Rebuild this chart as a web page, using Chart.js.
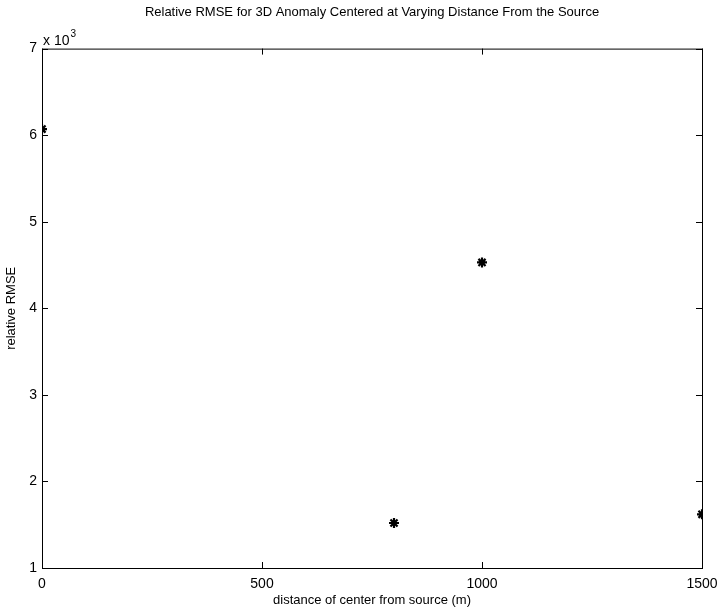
<!DOCTYPE html>
<html>
<head>
<meta charset="utf-8">
<script src="https://cdn.jsdelivr.net/npm/chart.js@4.4.1/dist/chart.umd.min.js"></script>
<style>
  html, body { margin: 0; padding: 0; background: #fff; }
  #wrap { width: 718px; height: 611px; }
</style>
</head>
<body>
<div id="wrap"><canvas id="Chart" width="718" height="611"></canvas></div>
<script>
const distances = [0, 800, 1000, 1500];
const rmseValues = [6070, 1520, 4530, 1620];
const xTicks = [0, 500, 1000, 1500];
const yTicks = [1000, 2000, 3000, 4000, 5000, 6000, 7000];

const FONT = 'Liberation Sans, Arial, Helvetica, sans-serif';

// box around the plot plus inward tick marks on all four sides, and the exponent label
const matlabAxes = {
    id: 'matlabAxes',
    afterDraw(chart) {
        const { ctx, chartArea: a, scales } = chart;
        const len = 6;
        ctx.save();
        ctx.strokeStyle = '#000';
        ctx.lineWidth = 1;
        ctx.strokeRect(a.left + 0.5, a.top + 0.5, a.right - a.left, a.bottom - a.top);
        ctx.beginPath();
        xTicks.forEach(v => {
            const px = Math.round(scales.x.getPixelForValue(v)) + 0.5;
            ctx.moveTo(px, a.bottom); ctx.lineTo(px, a.bottom - len);
            ctx.moveTo(px, a.top); ctx.lineTo(px, a.top + len);
        });
        yTicks.forEach(v => {
            const py = Math.round(scales.y.getPixelForValue(v)) + 0.5;
            ctx.moveTo(a.left, py); ctx.lineTo(a.left + len, py);
            ctx.moveTo(a.right, py); ctx.lineTo(a.right - len, py);
        });
        ctx.stroke();

        ctx.fillStyle = '#000';
        ctx.textBaseline = 'alphabetic';
        ctx.textAlign = 'left';
        ctx.font = '14px ' + FONT;
        ctx.fillText('x 10', a.left + 1, a.top - 4);
        const w = ctx.measureText('x 10').width;
        ctx.font = '10px ' + FONT;
        ctx.fillText('3', a.left + 2 + w, a.top - 12);
        ctx.restore();
    }
};

const config = {
    type: 'scatter',
    data: {
        datasets: [{
            label: 'relative RMSE',
            data: distances.map((d, i) => ({ x: d, y: rmseValues[i] })),
            pointStyle: 'star',
            pointRadius: 5,
            borderWidth: 2.2,
            borderColor: '#000',
            backgroundColor: '#000',
            showLine: false,
        }],
    },
    options: {
        responsive: false,
        animation: false,
        layout: { padding: { top: 0, right: 16, left: 0, bottom: 0 } },
        plugins: {
            legend: { display: false },
            tooltip: { enabled: false },
            title: {
                display: true,
                fullSize: false,
                text: 'Relative RMSE for 3D Anomaly Centered at Varying Distance From the Source',
                color: '#000',
                font: { family: FONT, size: 13, weight: 'normal' },
                padding: { top: 5, bottom: 28 },
            },
        },
        scales: {
            x: {
                type: 'linear',
                min: 0,
                max: 1500,
                afterBuildTicks: s => { s.ticks = xTicks.map(v => ({ value: v })); },
                afterFit: s => { s.height = 43; s.paddingLeft = 0; s.paddingRight = 0; },
                grid: { display: false, drawTicks: false },
                border: { display: false },
                ticks: {
                    color: '#000',
                    padding: 8,
                    maxRotation: 0,
                    font: { family: FONT, size: 14 },
                    callback: v => String(v),
                },
                title: {
                    display: true,
                    text: 'distance of center from source (m)',
                    color: '#000',
                    font: { family: FONT, size: 13 },
                    padding: { top: 0, bottom: 3 },
                },
            },
            y: {
                type: 'linear',
                min: 1000,
                max: 7000,
                afterBuildTicks: s => { s.ticks = yTicks.map(v => ({ value: v })); },
                afterFit: s => { s.width = 42; },
                grid: { display: false, drawTicks: false },
                border: { display: false },
                ticks: {
                    color: '#000',
                    padding: 5,
                    font: { family: FONT, size: 14 },
                    callback: v => v / 1000,
                },
                title: {
                    display: true,
                    text: 'relative RMSE',
                    color: '#000',
                    font: { family: FONT, size: 13 },
                    padding: { top: 4, bottom: 0 },
                },
            },
        },
    },
    plugins: [matlabAxes],
};

const ctx = document.getElementById('Chart').getContext('2d');
const myChart = new Chart(ctx, config);
</script>
</body>
</html>
